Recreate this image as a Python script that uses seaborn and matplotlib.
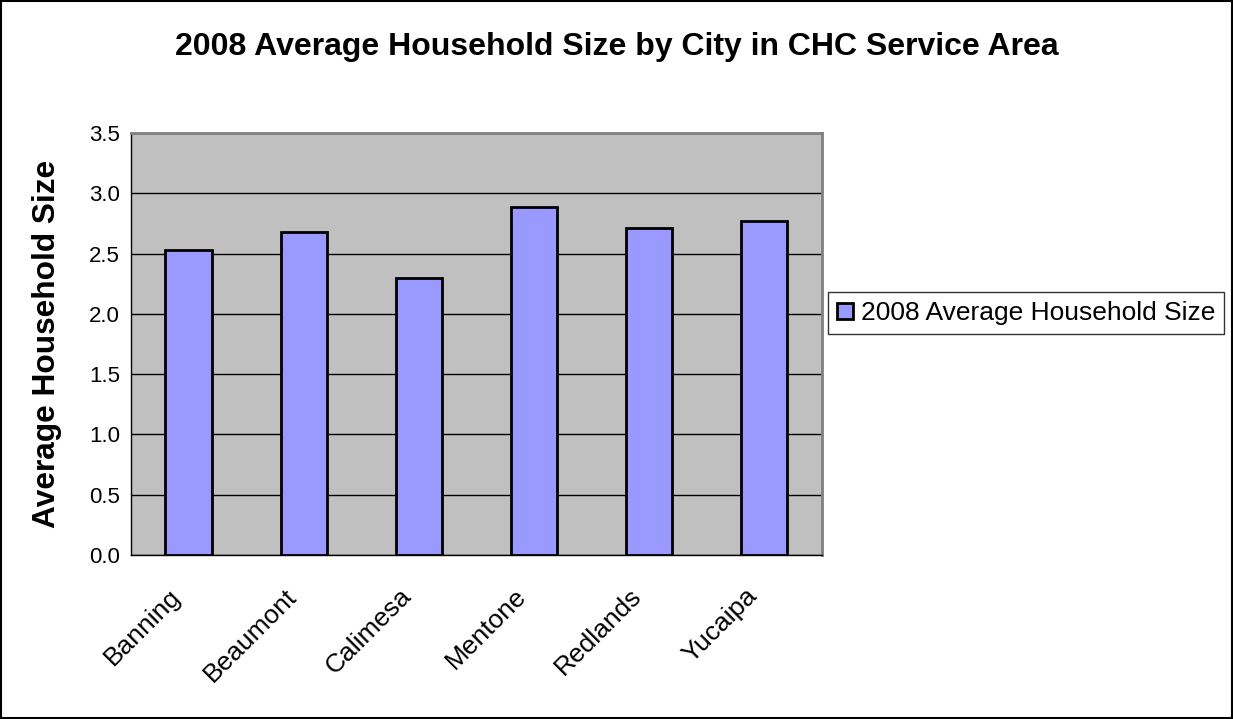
import numpy as np
import pandas as pd
import matplotlib
matplotlib.use("Agg")
import matplotlib.pyplot as plt
import matplotlib.transforms as mtransforms
from matplotlib.patches import Rectangle
import seaborn as sns

# values
cities = ["Banning", "Beaumont", "Calimesa", "Mentone", "Redlands", "Yucaipa"]
household_size = [2.53, 2.68, 2.30, 2.89, 2.71, 2.77]
series_name = "2008 Average Household Size"
y_ticks = [0.0, 0.5, 1.0, 1.5, 2.0, 2.5, 3.0, 3.5]

df = pd.DataFrame({"City": cities, "Size": household_size})

sns.set_style("white")
plt.rcParams["font.family"] = ["Liberation Sans", "DejaVu Sans"]
plt.rcParams["text.color"] = "black"
plt.rcParams["axes.labelcolor"] = "black"
plt.rcParams["xtick.color"] = "black"
plt.rcParams["ytick.color"] = "black"

fig = plt.figure(figsize=(12.33, 7.19), dpi=100)
ax = fig.add_axes([0.1062, 0.2281, 0.5605, 0.5869])
ax.set_facecolor("#C0C0C0")

sns.barplot(data=df, x="City", y="Size", color="#9999FF", edgecolor="black",
            linewidth=2, width=0.4, saturation=1, label=series_name, ax=ax, zorder=3)

ax.set_ylim(0, 3.5)
ax.set_xlim(-0.5, len(cities) - 0.5)
ax.set_yticks(y_ticks)
ax.set_yticklabels([f"{t:.1f}" for t in y_ticks], fontsize=16)
ax.yaxis.grid(True, color="black", linewidth=1, zorder=0)
ax.set_axisbelow(True)

# category labels at centers, tick marks at boundaries
ax.set_xticks(range(len(cities)))
ax.set_xticklabels(cities, rotation=45, ha="right", va="center",
                   rotation_mode="anchor", fontsize=19)
ax.tick_params(axis="x", length=0, pad=0)
shift = mtransforms.ScaledTranslation(-8 / 72, -27 / 72, fig.dpi_scale_trans)
for lab in ax.get_xticklabels():
    lab.set_transform(lab.get_transform() + shift)
ax.set_xticks(np.arange(-0.5, len(cities)), minor=True)
ax.tick_params(axis="x", which="minor", length=7, width=1, color="black", direction="out")
ax.tick_params(axis="y", length=5, width=1, color="black", direction="out", pad=3)

for side in ["top", "right"]:
    ax.spines[side].set_color("#808080")
    ax.spines[side].set_linewidth(2)
for side in ["left", "bottom"]:
    ax.spines[side].set_color("black")
    ax.spines[side].set_linewidth(1)

ax.set_xlabel("")
ax.set_ylabel("Average Household Size", fontsize=22.8, fontweight="bold", labelpad=19)

fig.suptitle("2008 Average Household Size by City in CHC Service Area",
             fontsize=23, fontweight="bold", x=0.5, y=0.955)

leg = ax.legend(loc="center left", bbox_to_anchor=(1.008, 0.573), frameon=True,
                fontsize=19, fancybox=False, edgecolor="black", handlelength=0.6,
                handleheight=0.6, handletextpad=0.3, borderpad=0.35, borderaxespad=0)
leg.get_frame().set_linewidth(1)

fig.patches.append(Rectangle((0.001, 0.001), 0.998, 0.997, transform=fig.transFigure,
                             fill=False, edgecolor="black", linewidth=1.5))

fig.savefig("out.png", dpi=100)
